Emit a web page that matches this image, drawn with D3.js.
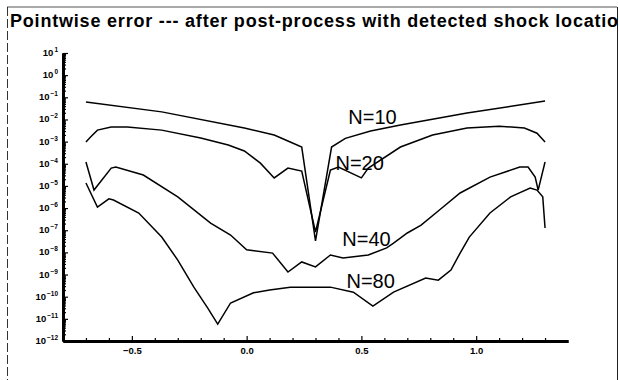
<!DOCTYPE html>
<html>
<head>
<meta charset="utf-8">
<script src="https://cdn.jsdelivr.net/npm/d3@7"></script>
<style>
  body { margin: 0; background: #fff; }
  svg { display: block; font-family: "Liberation Sans", Arial, sans-serif; }
</style>
</head>
<body>
<svg id="chart" width="619" height="380"></svg>
<script>
// values (x, pointwise error)
var titleText = "Pointwise error --- after post-process with detected shock locatio";

var n10X   = [-0.70, -0.37, -0.01, 0.12, 0.19, 0.24, 0.30, 0.37, 0.43, 0.54, 0.67, 0.96, 1.30];
var n10Err = [6.1e-2, 2.2e-2, 4.1e-3, 2.0e-3, 9.6e-4, 5.7e-4, 3.3e-8, 5.7e-4, 1.4e-3, 3.0e-3, 5.6e-3, 1.95e-2, 6.8e-2];

var n20X   = [-0.70, -0.68, -0.65, -0.59, -0.52, -0.37, -0.20, -0.08, -0.01, 0.06, 0.12, 0.18, 0.24, 0.30,
              0.365, 0.40, 0.50, 0.53, 0.67, 0.81, 0.96, 1.10, 1.21, 1.265, 1.30];
var n20Err = [9.6e-4, 1.6e-3, 3.3e-3, 4.6e-3, 4.6e-3, 3.3e-3, 1.45e-3, 7.0e-4, 3.8e-4, 1.07e-4, 2.3e-5, 6.4e-5, 4.7e-5, 8.3e-8,
              5.2e-5, 7.1e-5, 2.3e-5, 6.4e-5, 5.7e-4, 2.0e-3, 4.1e-3, 5.0e-3, 4.1e-3, 2.4e-3, 9.6e-4];

var n40X   = [-0.70, -0.665, -0.59, -0.57, -0.45, -0.30, -0.157, -0.07, 0.00, 0.113, 0.18, 0.24, 0.30, 0.365,
              0.42, 0.53, 0.61, 0.64, 0.70, 0.76, 0.84, 0.93, 1.06, 1.19, 1.226, 1.257, 1.27, 1.30];
var n40Err = [1.2e-4, 6.5e-6, 6.4e-5, 7.1e-5, 3.1e-5, 3.2e-6, 2.1e-7, 6.1e-8, 1.3e-8, 9.3e-9, 1.3e-9, 3.7e-9, 2.2e-9, 7.6e-9,
              5.6e-9, 7.6e-9, 1.6e-8, 2.6e-8, 7.5e-8, 1.7e-7, 8.2e-7, 4.8e-6, 2.5e-5, 7.1e-5, 7.1e-5, 2.5e-5, 6.5e-6, 1.2e-4];

var n80X   = [-0.70, -0.65, -0.60, -0.58, -0.47, -0.37, -0.30, -0.23, -0.17, -0.126, -0.07, 0.03, 0.10, 0.19,
              0.365, 0.465, 0.55, 0.64, 0.78, 0.835, 0.89, 0.93, 0.97, 1.06, 1.15, 1.235, 1.265, 1.29, 1.30];
var n80Err = [1.35e-5, 1.1e-6, 2.6e-6, 2.3e-6, 6.0e-7, 4.9e-8, 4.5e-9, 2.7e-10, 3.1e-11, 5.8e-12, 5.2e-11, 1.5e-10, 2.0e-10, 2.7e-10,
              2.7e-10, 1.6e-10, 3.8e-11, 1.6e-10, 6.9e-10, 5.6e-10, 1.6e-9, 9.3e-9, 4.9e-8, 6.0e-7, 3.2e-6, 8.0e-6, 6.5e-6, 3.2e-6, 1.26e-7];

var seriesNames = ["N=10", "N=20", "N=40", "N=80"];
// where each name sits, in data units (x, error at baseline)
var labelX   = [0.443, 0.387, 0.417, 0.435];
var labelErr = [6.2e-3, 5.2e-5, 1.95e-8, 2.5e-10];

var xTickLabels = [-0.5, 0.0, 0.5, 1.0];
var yExponents  = [1, 0, -1, -2, -3, -4, -5, -6, -7, -8, -9, -10, -11, -12];

(function(){
  var svg = d3.select("#chart");

  var x = d3.scaleLinear().domain([-0.8, 1.4]).range([63, 568]);
  var y = d3.scaleLog().domain([1e-12, 1e1]).range([341, 53]);

  // frame of the scanned figure
  svg.append("line").attr("x1", 7).attr("x2", 617).attr("y1", 7).attr("y2", 7)
     .attr("stroke", "#555").attr("stroke-width", 1);
  svg.append("line").attr("x1", 7.5).attr("x2", 7.5).attr("y1", 7).attr("y2", 380)
     .attr("stroke", "#333").attr("stroke-width", 1).attr("stroke-dasharray", "9,3");
  svg.append("line").attr("x1", 617.5).attr("x2", 617.5).attr("y1", 7).attr("y2", 380)
     .attr("stroke", "#222").attr("stroke-width", 1);

  svg.append("text")
     .attr("x", 10).attr("y", 27)
     .style("font-size", "18px").style("font-weight", "bold")
     .style("letter-spacing", "0.8px")
     .attr("fill", "#000")
     .text(titleText);

  // minor tick values
  var yMinor = [];
  yExponents.forEach(function(e){
    if(e === 1) return;
    for(var k = 2; k <= 9; k++) yMinor.push(k * Math.pow(10, e));
  });
  var xMinor = d3.range(-7, 14).map(function(i){ return i / 10; })
                 .filter(function(v){ return Math.abs(v * 2 - Math.round(v * 2)) > 1e-6; });

  var gy = svg.append("g").attr("transform", "translate(" + x.range()[0] + ",0)");
  gy.append("g").call(d3.axisLeft(y).tickValues(yMinor).tickSize(-3).tickSizeOuter(0).tickFormat(""));
  gy.append("g").call(d3.axisLeft(y).tickValues(yExponents.map(function(e){ return Math.pow(10, e); }))
                                    .tickSize(-5).tickSizeOuter(0).tickFormat(""));
  gy.selectAll("path.domain").attr("stroke-width", 2.8);
  gy.selectAll(".tick line").attr("stroke-width", 1.2);

  var gx = svg.append("g").attr("transform", "translate(0," + y.range()[0] + ")");
  gx.append("g").call(d3.axisBottom(x).tickValues(xMinor).tickSize(-3).tickSizeOuter(0).tickFormat(""));
  gx.append("g").call(d3.axisBottom(x).tickValues(xTickLabels).tickSize(-5).tickSizeOuter(0)
                                      .tickPadding(6).tickFormat(d3.format(".1f")));
  gx.selectAll("path.domain").attr("stroke-width", 2.8);
  gx.selectAll(".tick line").attr("stroke-width", 1.2);
  gx.selectAll(".tick text").style("font-size", "9.5px").style("font-weight", "bold")
    .attr("font-family", null).attr("fill", "#000");

  // y labels: 10 with superscript exponent
  var lab = svg.append("g").selectAll("text").data(yExponents).enter().append("text")
      .attr("x", 58).attr("y", function(e){ return y(Math.pow(10, e)) + 3; })
      .attr("text-anchor", "end")
      .style("font-size", "9.5px").style("font-weight", "bold");
  lab.append("tspan").text("10");
  lab.append("tspan").attr("dx", 1).attr("dy", -4).style("font-size", "6.5px")
     .text(function(e){ return e < 0 ? "\u2212" + (-e) : String(e); });

  var allX   = [n10X, n20X, n40X, n80X];
  var allErr = [n10Err, n20Err, n40Err, n80Err];

  var line = d3.line()
      .x(function(d){ return x(d[0]); })
      .y(function(d){ return y(d[1]); });

  svg.append("g").selectAll("path").data(allX).enter().append("path")
     .attr("d", function(xs, i){ return line(xs.map(function(v, j){ return [v, allErr[i][j]]; })); })
     .attr("fill", "none").attr("stroke", "#000").attr("stroke-width", 1.5)
     .attr("stroke-linejoin", "miter");

  svg.append("g").selectAll("text").data(seriesNames).enter().append("text")
     .attr("x", function(d, i){ return x(labelX[i]); })
     .attr("y", function(d, i){ return y(labelErr[i]); })
     .style("font-size", "20px")
     .attr("fill", "#000")
     .text(function(d){ return d; });
})();
</script>
</body>
</html>
